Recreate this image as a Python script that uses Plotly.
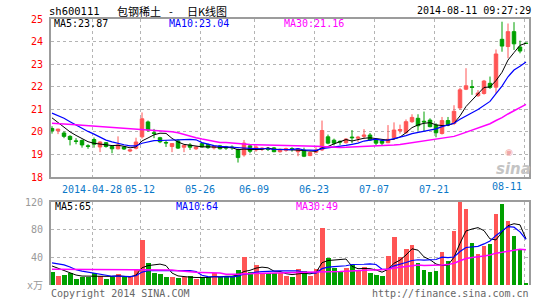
import plotly.graph_objects as go
import pandas as pd

# ---------------- data ----------------
holidays = ["2014-05-01", "2014-05-02", "2014-06-02"]
dates = [d.strftime("%Y-%m-%d") for d in pd.bdate_range("2014-04-17", "2014-08-11")
         if d.strftime("%Y-%m-%d") not in holidays]

open_ = [20.15, 20.05, 19.95, 19.80, 19.60, 19.62, 19.38, 19.66, 19.33, 19.52,
         19.35, 19.25, 19.33, 19.15, 19.27, 19.78, 20.44, 19.96, 19.74, 19.53,
         19.35, 19.60, 19.32, 19.42, 19.25, 19.48, 19.44, 19.29, 19.38, 19.34,
         19.33, 19.22, 18.98, 19.38, 19.20, 19.22, 19.26, 19.29, 19.12, 19.18,
         19.26, 19.12, 19.19, 18.95, 19.10, 19.20, 19.78, 19.63, 19.58, 19.52,
         19.77, 19.72, 19.80, 19.86, 19.64, 19.60, 19.52, 19.75, 20.05, 19.96,
         20.45, 20.60, 20.47, 20.52, 20.30, 19.93, 20.50, 20.37, 21.06, 21.89,
         22.00, 21.60, 21.70, 22.15, 21.98, 24.10, 23.78, 24.44, 23.76, 23.93]
high = [20.25, 20.14, 20.02, 19.85, 19.72, 19.66, 19.45, 19.75, 19.58, 19.55,
        19.38, 19.80, 19.37, 19.23, 19.74, 20.86, 20.50, 20.13, 19.78, 19.62,
        19.50, 19.68, 19.43, 19.50, 19.36, 19.52, 19.48, 19.40, 19.42, 19.38,
        19.40, 19.26, 19.64, 19.45, 19.40, 19.32, 19.32, 19.33, 19.25, 19.30,
        19.32, 19.28, 19.30, 19.12, 19.32, 20.50, 19.88, 19.70, 19.62, 19.72,
        20.08, 19.82, 20.12, 19.95, 19.70, 19.66, 20.30, 20.42, 20.32, 20.55,
        20.78, 20.78, 20.90, 20.60, 20.38, 20.66, 20.66, 21.18, 21.95, 22.82,
        22.30, 21.85, 22.30, 22.45, 23.65, 24.88, 24.80, 24.86, 24.04, 23.93]
low = [19.92, 19.90, 19.72, 19.40, 19.45, 19.30, 19.25, 19.30, 19.10, 19.30,
       19.05, 19.22, 19.20, 19.10, 19.22, 19.70, 20.00, 19.72, 19.50, 19.33,
       19.10, 19.24, 19.10, 19.20, 19.20, 19.30, 19.25, 19.22, 19.22, 19.20,
       19.20, 18.64, 18.90, 19.05, 19.12, 19.15, 19.15, 19.10, 19.08, 19.12,
       19.12, 18.92, 18.88, 18.92, 19.05, 19.15, 19.45, 19.40, 19.42, 19.48,
       19.50, 19.55, 19.70, 19.60, 19.40, 19.40, 19.50, 19.65, 19.92, 19.92,
       20.40, 20.05, 20.02, 20.20, 19.76, 19.88, 20.25, 20.30, 20.98, 21.85,
       21.64, 21.55, 21.65, 21.90, 21.70, 23.55, 23.26, 23.63, 23.48, 23.91]
close = [20.05, 20.12, 19.80, 19.66, 19.58, 19.42, 19.36, 19.45, 19.55, 19.35,
         19.25, 19.42, 19.24, 19.20, 19.55, 20.58, 20.08, 19.93, 19.56, 19.51,
         19.48, 19.28, 19.40, 19.32, 19.33, 19.34, 19.30, 19.36, 19.25, 19.28,
         19.30, 18.86, 19.50, 19.14, 19.33, 19.28, 19.22, 19.12, 19.20, 19.26,
         19.24, 19.25, 18.92, 19.08, 19.20, 20.06, 19.50, 19.50, 19.55, 19.68,
         19.74, 19.76, 19.86, 19.64, 19.50, 19.50, 19.67, 20.08, 20.10, 20.45,
         20.64, 20.27, 20.44, 20.23, 19.96, 20.50, 20.30, 20.91, 21.86, 22.04,
         21.97, 21.72, 22.25, 21.97, 23.45, 23.80, 24.44, 23.90, 23.58, 23.92]
volume = [19.3, 13, 14.5, 17, 8.2, 12, 12, 17, 13, 8.2,
          12, 16, 11, 11, 21.7, 65, 31.4, 17, 16, 11,
          11, 10.6, 11, 13, 8.7, 11, 11, 17, 11, 13,
          11, 21.7, 41, 19.3, 29, 18, 17, 17, 17, 13,
          11, 22.7, 20.8, 13, 22.7, 82, 38.6, 24, 19.3, 24,
          29, 21.7, 25.6, 17.9, 14.5, 13, 42, 70, 40, 51.7,
          58, 32, 21.7, 19.3, 20.8, 47, 35, 78.7, 120, 110,
          61, 45, 57, 60, 103, 117, 92, 71, 52, 1.5]

# moving-average values before enough visible history exists
ma5_head = [20.62, 20.42, 20.18, 20.00]
ma10_head = [20.83, 20.72, 20.60, 20.45, 20.30, 20.15, 20.02, 19.90, 19.77]
ma30_head = [20.38, 20.37, 20.35, 20.33, 20.31, 20.29, 20.27, 20.25, 20.23, 20.21,
             20.19, 20.17, 20.15, 20.13, 20.11, 20.09, 20.08, 20.07, 20.06, 20.03,
             20.00, 19.96, 19.88, 19.80, 19.74, 19.68, 19.62, 19.57, 19.53]
vma5_head = [27.5, 24.0, 21.0, 17.5]
vma10_head = [32.0, 30.5, 29.0, 26.0, 22.0, 20.0, 18.5, 17.0, 15.5]
vma30_head = [22.7, 22.7, 22.6, 22.6, 22.5, 22.5, 22.4, 22.4, 22.3, 22.3,
              22.2, 22.2, 22.1, 22.1, 22.0, 21.9, 21.9, 21.8, 21.8, 21.7,
              21.7, 20.5, 19.5, 18.8, 18.3, 17.9, 17.6, 17.4, 17.2]

tick_dates = ["2014-04-28", "2014-05-12", "2014-05-26", "2014-06-09",
              "2014-06-23", "2014-07-07", "2014-07-21", "2014-08-11"]
tick_labels = ["2014-04-28", "05-12", "05-26", "06-09", "06-23", "07-07", "07-21", "08-11"]

price_ticks = [18, 19, 20, 21, 22, 23, 24, 25]
vol_ticks = [0, 40, 80, 120]
vol_ticktext = ["x万", "40", "80", "120"]

title_code = "sh600111"
title_left = "包钢稀土"
title_dash = "-"
title_right = "日K线图"
timestamp = "2014-08-11 09:27:29"
price_ma_labels = ["MA5:23.87", "MA10:23.04", "MA30:21.16"]
vol_ma_labels = ["MA5:65", "MA10:64", "MA30:49"]


def moving_avg(vals, n, head):
    out = list(head)
    for i in range(len(head), len(vals)):
        out.append(sum(vals[i - n + 1:i + 1]) / n)
    return out


idx = list(range(len(dates)))
RED = "#FF5555"
GREEN = "#00A000"
MONO = "DejaVu Sans Mono"
CJK = "Noto Sans CJK SC"

fig = go.Figure()
fig.add_trace(go.Candlestick(
    x=idx, open=open_, high=high, low=low, close=close,
    increasing=dict(line=dict(color=RED, width=1), fillcolor=RED),
    decreasing=dict(line=dict(color=GREEN, width=1), fillcolor=GREEN),
    whiskerwidth=0, xaxis="x", yaxis="y", showlegend=False, hoverinfo="skip"))

for vals, n, head, col, w in [(close, 5, ma5_head, "black", 1),
                              (close, 10, ma10_head, "#0000FF", 1.2),
                              (close, 30, ma30_head, "#FF00FF", 1.5)]:
    fig.add_trace(go.Scatter(x=idx, y=moving_avg(vals, n, head), mode="lines",
                             line=dict(color=col, width=w), xaxis="x", yaxis="y",
                             showlegend=False, hoverinfo="skip"))

vol_colors = [RED if c > o else GREEN for o, c in zip(open_, close)]
fig.add_trace(go.Bar(x=idx, y=volume, width=0.83, marker=dict(color=vol_colors, line=dict(width=0)),
                     xaxis="x2", yaxis="y2", showlegend=False, hoverinfo="skip"))
for vals, n, head, col, w in [(volume, 5, vma5_head, "black", 1),
                              (volume, 10, vma10_head, "#0000FF", 1.2),
                              (volume, 30, vma30_head, "#FF00FF", 1.5)]:
    fig.add_trace(go.Scatter(x=idx, y=moving_avg(vals, n, head), mode="lines",
                             line=dict(color=col, width=w), xaxis="x2", yaxis="y2",
                             showlegend=False, hoverinfo="skip"))

tickpos = [dates.index(d) - 0.33 for d in tick_dates]
ticktext = tick_labels[:-1] + [""]

W, H = 545, 300
xdom = [51 / W, 529 / W]
xr = [-0.17, 79.5]
GRID = "#B4B4B4"
LINE = "#9C9C9C"
XLAB = "#0A78C8"

fig.update_layout(
    width=W, height=H, margin=dict(l=0, r=0, t=0, b=0, autoexpand=False),
    paper_bgcolor="white", plot_bgcolor="white", boxgap=0.17, bargap=0,
    showlegend=False,
    xaxis=dict(domain=xdom, range=xr, tickmode="array", tickvals=tickpos, ticktext=ticktext,
               tickangle=0, automargin=False,
               showgrid=True, gridcolor=GRID, griddash="dot", gridwidth=1,
               showline=True, mirror=True, linecolor=LINE, linewidth=2,
               ticks="outside", ticklen=2, tickcolor="rgba(0,0,0,0)",
               tickfont=dict(family=MONO, size=10, color=XLAB),
               rangeslider=dict(visible=False), zeroline=False, anchor="y", fixedrange=True),
    yaxis=dict(domain=[1 - 177 / H, 1 - 19 / H], range=[18, 25], tickmode="array",
               tickvals=price_ticks, ticktext=[str(t) for t in price_ticks], automargin=False,
               showgrid=True, gridcolor=GRID, griddash="dot", gridwidth=1,
               showline=True, mirror=True, linecolor=LINE, linewidth=2,
               ticks="outside", ticklen=4, tickcolor="rgba(0,0,0,0)",
               tickfont=dict(family=MONO, size=10, color="#FF0000"),
               zeroline=False, anchor="x", fixedrange=True),
    xaxis2=dict(domain=xdom, range=xr, tickmode="array", tickvals=tickpos, automargin=False,
                showticklabels=False, showgrid=True, gridcolor=GRID, griddash="dot", gridwidth=1,
                showline=True, side="top", linecolor=LINE, linewidth=2,
                zeroline=False, anchor="y2", fixedrange=True),
    yaxis2=dict(domain=[1 - 285 / H, 1 - 202 / H], range=[0, 120], tickmode="array",
                tickvals=vol_ticks, ticktext=vol_ticktext, automargin=False,
                showgrid=True, gridcolor=GRID, griddash="dot", gridwidth=1,
                showline=True, mirror=True, linecolor=LINE, linewidth=2,
                ticks="outside", ticklen=4, tickcolor="rgba(0,0,0,0)",
                tickfont=dict(family=MONO + ", " + CJK, size=10, color="#999999"),
                zeroline=False, anchor="x2", fixedrange=True),
)

# last date label sits left of its gridline (it would otherwise run off the frame)
fig.add_annotation(text=tick_labels[-1], x=tickpos[-1], xref="x", y=1 - 186 / H, yref="paper",
                   xanchor="right", yanchor="middle", showarrow=False,
                   font=dict(family=MONO, size=10, color=XLAB))


def ann(text, x, y, color="black", size=10, anchor="left", family=MONO, **kw):
    fig.add_annotation(text=text, x=x / W, y=1 - y / H, xref="paper", yref="paper",
                       xanchor=anchor, yanchor="middle", showarrow=False,
                       font=dict(family=family, size=size, color=color), **kw)


ann(title_code, 47, 11, size=10.5)
ann(title_left, 115, 11, size=11, family=CJK)
ann(title_dash, 171, 11, size=11, family=CJK, anchor="center")
ann(title_right, 185, 11, size=11, family=CJK)
ann(timestamp, 533, 11, anchor="right", size=10)
ann(price_ma_labels[0], 52, 24, color="black")
ann(price_ma_labels[1], 167, 24, color="#0000FF")
ann(price_ma_labels[2], 282, 24, color="#FF00FF")
ann(vol_ma_labels[0], 53, 207, color="black")
ann(vol_ma_labels[1], 174, 207, color="#0000FF")
ann(vol_ma_labels[2], 294, 207, color="#FF00FF")
ann("Copyright 2014 SINA.COM", 49, 293, color="#666666")
ann("http://finance.sina.com.cn", 531, 293, color="#666666", anchor="right")
ann("<b><i>sina</i></b>", 513, 169, color="#C4C4C4", size=15, anchor="center", family="DejaVu Sans")
ann("◉", 509, 152, color="#F2A8A8", size=9, anchor="center", family="DejaVu Sans")

fig.write_html("out.html")
